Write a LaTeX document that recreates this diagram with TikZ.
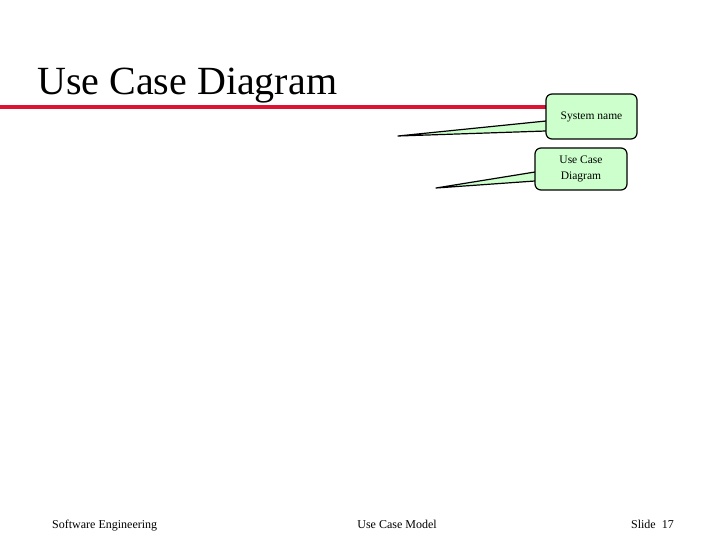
\documentclass[tikz,border=0pt]{standalone}
\usepackage{fontspec}
\setmainfont{Liberation Serif}
\begin{document}
\begin{tikzpicture}[x=1pt,y=-1pt,
  callout/.style={draw=black,line width=1.2pt,fill=calloutgreen,rounded corners=6pt,align=center,font=\fontsize{11.5}{16}\selectfont,inner sep=0pt},
  tail/.style={draw=black,line width=1.2pt,fill=calloutgreen,line join=round},
  foot/.style={font=\fontsize{12}{14}\selectfont,anchor=base}]
\definecolor{calloutgreen}{RGB}{204,255,204}
\definecolor{titlered}{RGB}{220,20,50}
\useasboundingbox (0,0) rectangle (720,540);
\node[anchor=base west,font=\fontsize{40}{44}\selectfont,inner sep=0pt] (title) at (37,95) {Use Case Diagram};
\draw[titlered,line width=4pt] (0,107) -- (548,107);
% callout 1
\coordinate (t1) at (398,136);
\draw[tail] (546,121) -- (t1) -- (546,131);
\node[callout,minimum width=91pt,minimum height=45pt] (c1) at (591.5,116.5) {System name};
% callout 2
\coordinate (t2) at (436,188);
\draw[tail] (535,172) -- (t2) -- (535,181);
\node[callout,minimum width=92pt,minimum height=42pt] (c2) at (581,169) {Use Case\\Diagram};
\node[foot,anchor=base west,inner sep=0pt] (f1) at (52,528) {Software Engineering};
\node[foot] (f2) at (397,528) {Use Case Model};
\node[foot,anchor=base east,inner sep=0pt] (f3) at (674,528) {Slide\ \ 17};
\end{tikzpicture}
\end{document}
